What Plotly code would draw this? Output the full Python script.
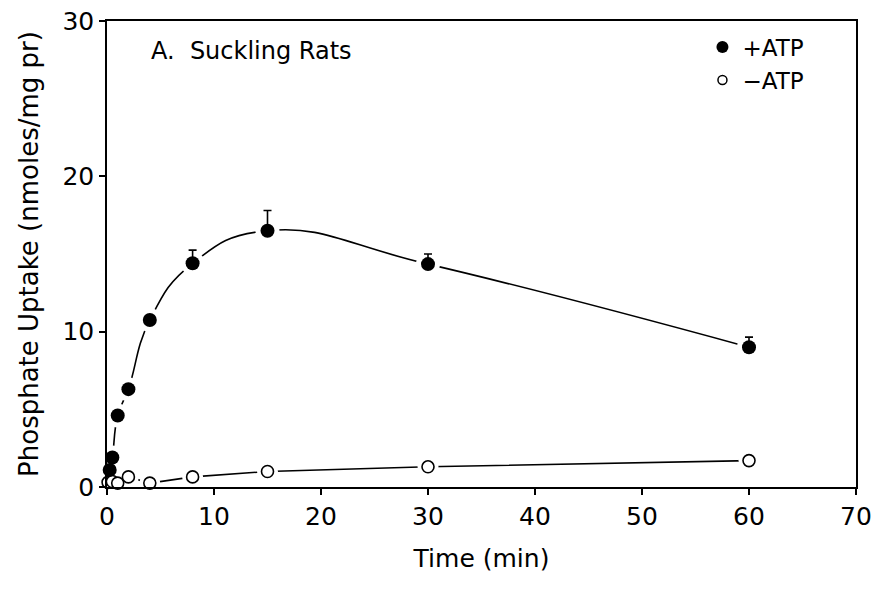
import plotly.graph_objects as go

# +ATP data
t_plus = [0.25, 0.5, 1, 2, 4, 8, 15, 30, 60]
y_plus = [1.1, 1.9, 4.6, 6.3, 10.75, 14.4, 16.5, 14.35, 9.0]
err_plus = [0, 0, 0, 0, 0, 0.85, 1.3, 0.65, 0.65]

# -ATP data
t_minus = [0.1, 0.5, 1, 2, 4, 8, 15, 30, 60]
y_minus = [0.3, 0.35, 0.25, 0.65, 0.25, 0.65, 1.0, 1.3, 1.7]

x_ticks = [0, 10, 20, 30, 40, 50, 60, 70]
y_ticks = [0, 10, 20, 30]

FONT = "DejaVu Sans"
fig = go.Figure()

# lines
fig.add_trace(go.Scatter(x=t_plus, y=y_plus, mode="lines",
                         line=dict(color="black", width=1.6, shape="spline", smoothing=1.3),
                         showlegend=False, hoverinfo="skip"))
fig.add_trace(go.Scatter(x=t_minus, y=y_minus, mode="lines",
                         line=dict(color="black", width=1.6),
                         showlegend=False, hoverinfo="skip"))
# white halos to create gaps
fig.add_trace(go.Scatter(x=t_plus, y=y_plus, mode="markers",
                         marker=dict(color="white", size=24, line=dict(width=0)),
                         showlegend=False, hoverinfo="skip", cliponaxis=False))
fig.add_trace(go.Scatter(x=t_minus, y=y_minus, mode="markers",
                         marker=dict(color="white", size=21, line=dict(width=0)),
                         showlegend=False, hoverinfo="skip", cliponaxis=False))
# markers
fig.add_trace(go.Scatter(x=t_minus, y=y_minus, mode="markers",
                         marker=dict(color="white", size=12, symbol="circle",
                                     line=dict(color="black", width=1.6)),
                         showlegend=False, cliponaxis=False))
fig.add_trace(go.Scatter(x=t_plus, y=y_plus, mode="markers",
                         marker=dict(color="black", size=14, symbol="circle", line=dict(width=0)),
                         error_y=dict(type="data", symmetric=False, array=err_plus,
                                      arrayminus=[0] * len(err_plus),
                                      color="black", thickness=1.6, width=4),
                         showlegend=False, cliponaxis=False))
# legend entries
fig.add_trace(go.Scatter(x=[None], y=[None], mode="markers", name="+ATP",
                         marker=dict(color="black", size=12, symbol="circle")))
fig.add_trace(go.Scatter(x=[None], y=[None], mode="markers", name="\u2212ATP",
                         marker=dict(color="white", size=9, symbol="circle",
                                     line=dict(color="black", width=1.5))))

fig.add_annotation(text="A.  Suckling Rats", xref="paper", yref="paper",
                   x=0.056, y=0.935, xanchor="left", yanchor="middle",
                   showarrow=False, font=dict(family=FONT, size=24, color="black"))

axis_common = dict(showline=True, linecolor="black", linewidth=1.6, mirror=True,
                   ticks="outside", ticklen=6, tickwidth=1.6, tickcolor="black",
                   showgrid=False, zeroline=False,
                   tickfont=dict(family=FONT, size=25, color="black"))

fig.update_xaxes(range=[0, 70], tickvals=x_ticks, ticktext=[str(v) for v in x_ticks],
                 title=dict(text="Time (min)", font=dict(family=FONT, size=25, color="black"),
                            standoff=20),
                 **axis_common)
fig.update_yaxes(range=[0, 30], tickvals=y_ticks, ticktext=[str(v) for v in y_ticks],
                 title=dict(text="Phosphate Uptake (nmoles/mg pr)",
                            font=dict(family=FONT, size=26, color="black"), standoff=16),
                 **axis_common)

fig.update_layout(width=874, height=592,
                  margin=dict(l=107, r=18, t=21, b=105, autoexpand=False),
                  plot_bgcolor="white", paper_bgcolor="white",
                  legend=dict(x=0.795, y=0.99, xanchor="left", yanchor="top",
                              bgcolor="rgba(0,0,0,0)", borderwidth=0,
                              font=dict(family=FONT, size=23, color="black"),
                              itemwidth=30, tracegroupgap=2),
                  showlegend=True)

fig.write_html("out.html")
